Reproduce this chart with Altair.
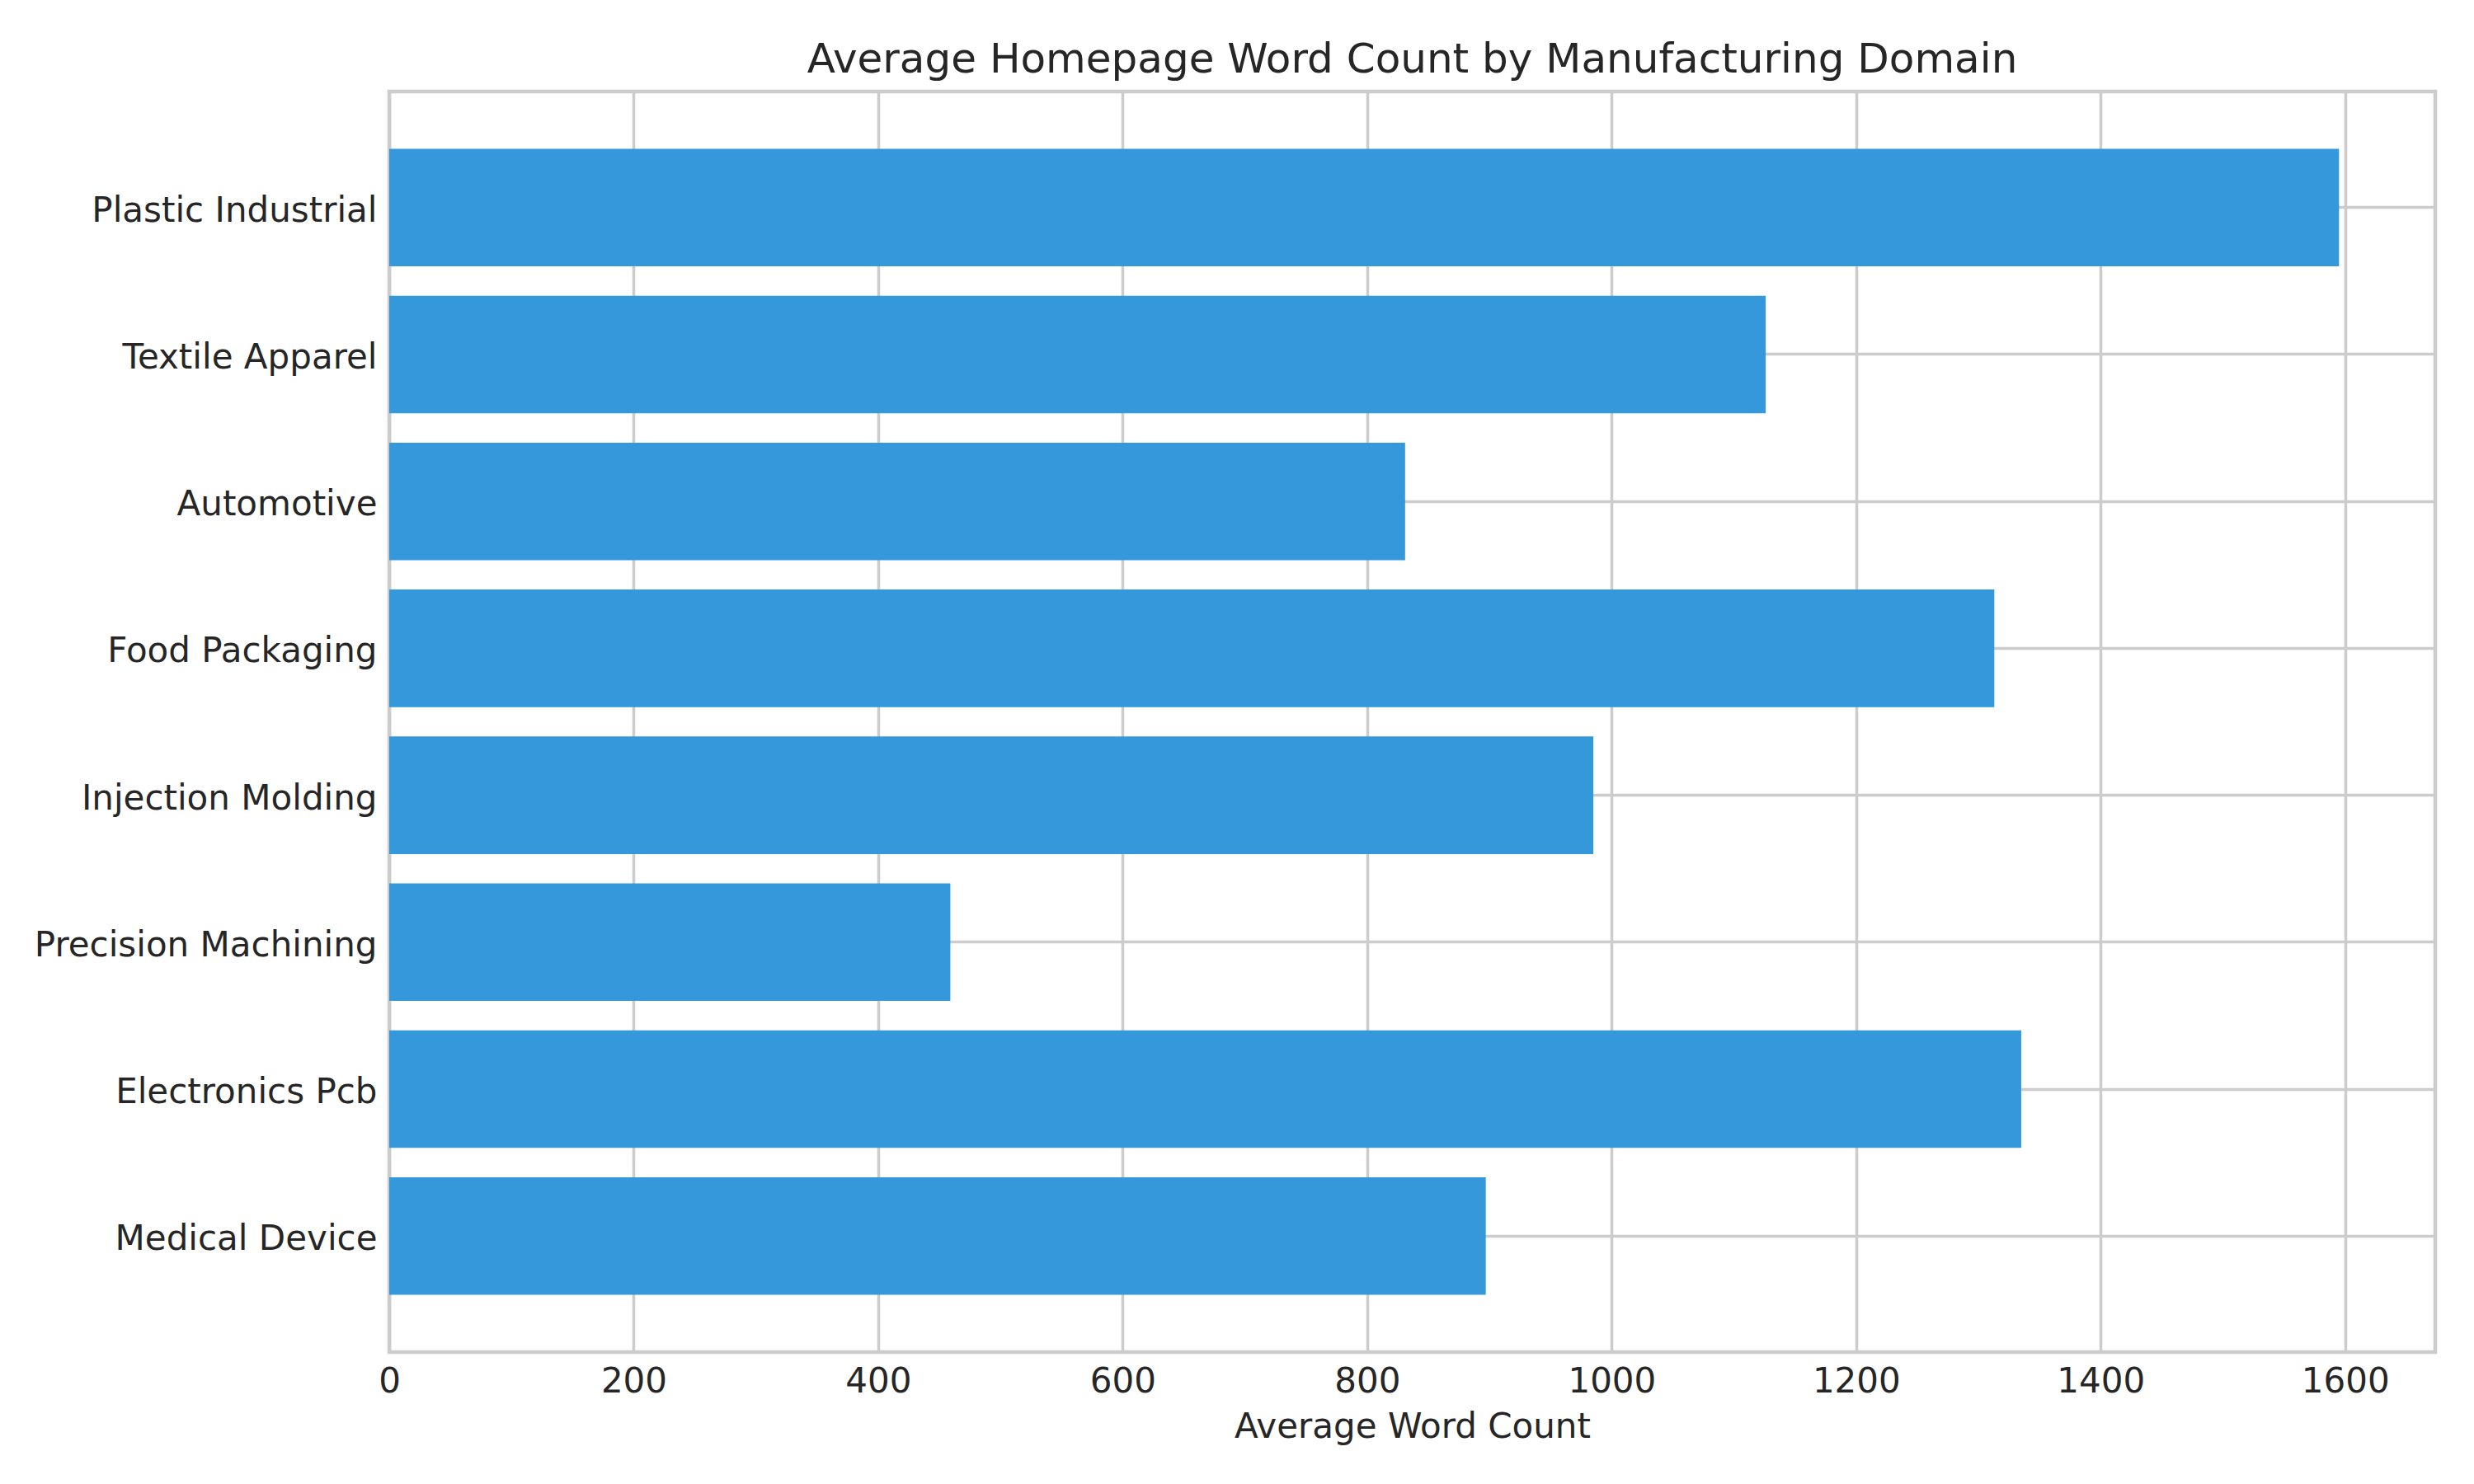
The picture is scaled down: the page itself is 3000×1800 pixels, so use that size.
import altair as alt
import pandas as pd

domains = [
    "Plastic Industrial",
    "Textile Apparel",
    "Automotive",
    "Food Packaging",
    "Injection Molding",
    "Precision Machining",
    "Electronics Pcb",
    "Medical Device",
]
word_counts = [1595, 1126, 831, 1313, 985, 459, 1335, 897]
x_ticks = [0, 200, 400, 600, 800, 1000, 1200, 1400, 1600]

df = pd.DataFrame({"domain": domains, "words": word_counts})

FONT = "DejaVu Sans"
TEXT = "#262626"
GRID = "#cccccc"

chart = (
    alt.Chart(df)
    .mark_bar(color="#3498db")
    .encode(
        x=alt.X(
            "words:Q",
            scale=alt.Scale(domain=[0, 1673.7], nice=False, zero=True),
            axis=alt.Axis(
                values=x_ticks,
                title="Average Word Count",
                grid=True,
                gridColor=GRID,
                gridWidth=3.5,
                ticks=False,
                domain=False,
                labelPadding=15,
                titlePadding=14,
                labelFlush=False,
                format="d",
            ),
        ),
        y=alt.Y(
            "domain:N",
            sort=domains,
            scale=alt.Scale(paddingInner=0.2, paddingOuter=0.39),
            axis=alt.Axis(
                title=None,
                ticks=False,
                domain=False,
                labelPadding=15,
                labelOffset=4,
                labelLimit=1000,
                bandPosition=0.5,
                grid=True,
                gridColor=GRID,
                gridWidth=3.5,
            ),
        ),
    )
    .properties(
        width=2481,
        height=1529,
        title=alt.TitleParams(
            "Average Homepage Word Count by Manufacturing Domain",
            fontSize=50,
            fontWeight="normal",
            font=FONT,
            color=TEXT,
            anchor="middle",
            baseline="alphabetic",
            offset=25,
            dy=52,
        ),
        autosize=alt.AutoSizeParams(type="none"),
        padding={"left": 464, "top": 103, "right": 38, "bottom": 150},
    )
    .configure_view(stroke=GRID, strokeWidth=4.5)
    .configure_axis(
        labelFont=FONT,
        labelFontSize=42,
        labelColor=TEXT,
        titleFont=FONT,
        titleFontSize=42,
        titleColor=TEXT,
        titleFontWeight="normal",
    )
)

chart.save("out.html", embed_options={"renderer": "svg", "actions": False})
